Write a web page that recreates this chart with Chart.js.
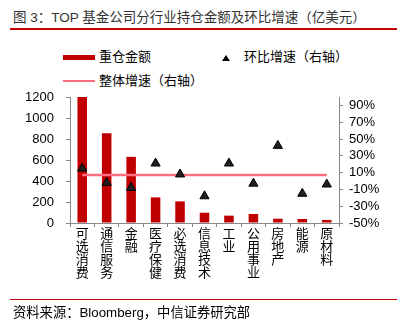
<!DOCTYPE html>
<html>
<head>
<meta charset="utf-8">
<script src="https://cdn.jsdelivr.net/npm/chart.js@4"></script>
<style>
  body { margin: 0; width: 402px; height: 325px; position: relative; background: #fff;
         font-family: "Liberation Sans", "Noto Sans CJK SC", sans-serif; color: #000; overflow: hidden; }
  #grafico { position: absolute; left: 0; top: 0; }
  .txt { position: absolute; font-size: 13px; line-height: 16px; white-space: nowrap; }
  .rule { position: absolute; left: 10px; width: 387px; height: 1px; background: #c00000; }
  .chip { position: absolute; }
</style>
</head>
<body>
<div class="txt" style="left:13px; top:10px; color:#333; font-size:13.5px;">图 3：TOP 基金公司分行业持仓金额及环比增速（亿美元）</div>
<div class="rule" style="top:28px; height:1.5px;"></div>

<!-- legenda -->
<div class="chip" style="left:63px; top:55px; width:32px; height:5px; background:#c00000;"></div>
<div class="txt" style="left:99px; top:49px;">重仓金额</div>
<div class="chip" style="left:222px; top:55px; width:0; height:0; border-left:4px solid transparent; border-right:4px solid transparent; border-bottom:6px solid #000;"></div>
<div class="txt" style="left:244px; top:49px;">环比增速（右轴）</div>
<div class="chip" style="left:63px; top:80px; width:32px; height:2px; background:#ff6f7f;"></div>
<div class="txt" style="left:99px; top:73px;">整体增速（右轴）</div>

<canvas id="grafico" width="402" height="325"></canvas>

<div class="rule" style="top:299px;"></div>
<div class="txt" style="left:13px; top:305px; font-size:13.3px;">资料来源：Bloomberg，中信证券研究部</div>

<script>
// dados
const setores = ["可选消费", "通信服务", "金融", "医疗保健", "必选消费", "信息技术", "工业", "公用事业", "房地产", "能源", "原材料"];
const valorPosicao = [1200, 855, 630, 244, 206, 98, 70, 86, 41, 38, 29];
const crescimentoSetor = [15, -2, -8, 21, 8, -18, 21, -3, 42, -15, -4];
const crescimentoTotal = [7, 7, 7, 7, 7, 7, 7, 7, 7, 7, 7];
const ticksDireita = [-50, -30, -10, 10, 30, 50, 70, 90];

const fonte = 'Liberation Sans, "Noto Sans CJK SC", sans-serif';
const corEixo = "#888888";

const ctx = document.getElementById("grafico").getContext("2d");

let chart = new Chart(ctx, {
  type: "bar",
  data: {
    labels: setores.map((s) => s.split("")),
    datasets: [
      {
        type: "line",
        label: "环比增速（右轴）",
        data: crescimentoSetor,
        yAxisID: "y1",
        showLine: false,
        pointStyle: "triangle",
        pointRadius: 5.3,
        pointBackgroundColor: "#231f20",
        pointBorderColor: "#000000",
        pointBorderWidth: 1,
        order: 0,
      },
      {
        type: "line",
        label: "整体增速（右轴）",
        data: crescimentoTotal,
        yAxisID: "y1",
        borderColor: "#ff6f7f",
        borderWidth: 2.5,
        pointRadius: 0,
        order: 1,
      },
      {
        label: "重仓金额",
        data: valorPosicao,
        yAxisID: "y",
        backgroundColor: "#c00000",
        categoryPercentage: 1,
        barPercentage: 0.39,
        order: 2,
      },
    ],
  },
  options: {
    responsive: false,
    animation: false,
    layout: { padding: { top: 97, left: 0, right: 0, bottom: 0 } },
    plugins: { legend: { display: false }, tooltip: { enabled: false } },
    scales: {
      x: {
        grid: { drawOnChartArea: false, tickLength: 4, color: corEixo, offset: true },
        border: { color: corEixo },
        ticks: { color: "#000", maxRotation: 0, autoSkip: false, padding: 1,
                 font: { family: fonte, size: 13, lineHeight: 1.0 } },
        afterFit: (s) => { s.height = 102; },
      },
      y: {
        position: "left",
        min: 0,
        max: 1200,
        grid: { drawOnChartArea: false, tickLength: 4, color: corEixo },
        border: { color: corEixo },
        ticks: { stepSize: 200, color: "#000", padding: 12, font: { family: fonte, size: 13 },
                 callback: (v) => String(v) },
        afterFit: (s) => { s.width = 70; },
      },
      y1: {
        position: "right",
        min: -50,
        max: 100,
        grid: { drawOnChartArea: false, tickLength: 4, color: corEixo },
        border: { color: corEixo },
        afterBuildTicks: (s) => { s.ticks = ticksDireita.map((v) => ({ value: v })); },
        ticks: { color: "#000", padding: 6, autoSkip: false, font: { family: fonte, size: 13 },
                 callback: (v) => v + "%" },
        afterFit: (s) => { s.width = 63; },
      },
    },
  },
});
</script>
</body>
</html>
